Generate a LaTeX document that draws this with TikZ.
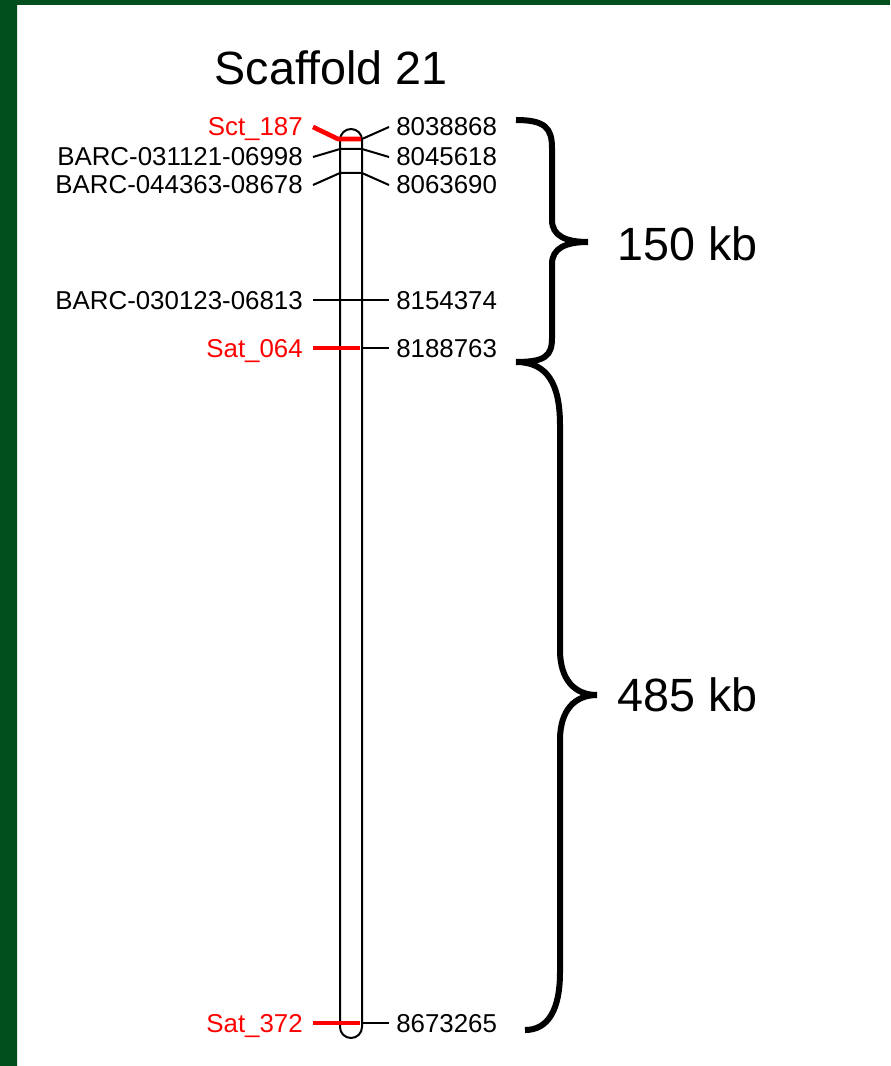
\documentclass[tikz,border=0pt]{standalone}
\usepackage{fontspec}
\setmainfont{Liberation Sans}
\definecolor{bordgreen}{HTML}{004F1D}
\definecolor{borddark}{HTML}{00260E}
\begin{document}
\begin{tikzpicture}[x=0.75pt,y=-0.75pt,
  lbl/.style={font=\fontsize{19.4}{21}\selectfont, inner sep=0pt},
  big/.style={font=\fontsize{35}{40}\selectfont, inner sep=0pt},
  thinline/.style={line width=1.5pt},
  redmark/.style={red, line width=3.5pt},
  bracepath/.style={line width=4.5pt, line cap=butt}]
\useasboundingbox (0,0) rectangle (890,1066);
\fill[white] (0,0) rectangle (890,1066);
\shade[top color=bordgreen, middle color=borddark, bottom color=bordgreen] (0,0) rectangle (17,1066);
\fill[bordgreen] (0,0) rectangle (890,5);

% title
\node[big] (title) at (331,68) {Scaffold 21};

% chromosome
\draw[thinline, rounded corners=8.25pt] (340,129) rectangle (362,1038);

% left labels
\node[lbl, red, anchor=base east] (L1) at (303,136) {Sct\_187};
\node[lbl, anchor=base east] (L2) at (303,166) {BARC-031121-06998};
\node[lbl, anchor=base east] (L3) at (303,194) {BARC-044363-08678};
\node[lbl, anchor=base east] (L4) at (303,309) {BARC-030123-06813};
\node[lbl, red, anchor=base east] (L5) at (303,357) {Sat\_064};
\node[lbl, red, anchor=base east] (L6) at (303,1032) {Sat\_372};

% right labels
\node[lbl, anchor=base west] (R1) at (396,136) {8038868};
\node[lbl, anchor=base west] (R2) at (396,166) {8045618};
\node[lbl, anchor=base west] (R3) at (396,194) {8063690};
\node[lbl, anchor=base west] (R4) at (396,309) {8154374};
\node[lbl, anchor=base west] (R5) at (396,357) {8188763};
\node[lbl, anchor=base west] (R6) at (396,1032) {8673265};

% connector coordinates
\coordinate (a1) at (313,127); \coordinate (b1) at (338,139); \coordinate (c1) at (361,139);
\coordinate (d1) at (362,139); \coordinate (e1) at (389,127);
\coordinate (a2) at (313,157); \coordinate (b2) at (340,149); \coordinate (c2) at (362,149); \coordinate (e2) at (389,157);
\coordinate (a3) at (313,185); \coordinate (b3) at (340,173); \coordinate (c3) at (362,173); \coordinate (e3) at (389,185);
\coordinate (a4) at (313,300); \coordinate (e4) at (389,300);
\coordinate (a5) at (313,348); \coordinate (c5) at (360,348); \coordinate (d5) at (362,348); \coordinate (e5) at (389,348);
\coordinate (a6) at (313,1023); \coordinate (c6) at (360,1023); \coordinate (d6) at (362,1023); \coordinate (e6) at (389,1023);

% black connectors
\draw[thinline] (d1) -- (e1);
\draw[thinline] (a2) -- (b2) -- (c2) -- (e2);
\draw[thinline] (a3) -- (b3) -- (c3) -- (e3);
\draw[thinline] (a4) -- (e4);
\draw[thinline] (d5) -- (e5);
\draw[thinline] (d6) -- (e6);

% red markers
\draw[redmark, line join=round] (a1) -- (b1) -- (c1);
\draw[redmark] (a5) -- (c5);
\draw[redmark] (a6) -- (c6);

% braces
\draw[bracepath] (516,120) .. controls (545,120) and (552,128) .. (552,148)
  -- (552,220) .. controls (552,236) and (566,242) .. (588,242)
  .. controls (566,242) and (552,248) .. (552,264)
  -- (552,338) .. controls (552,356) and (545,362) .. (516,362);
\draw[bracepath] (516,362) .. controls (548,362) and (560,385) .. (560,425)
  -- (560,650) .. controls (560,680) and (575,695) .. (597,695)
  .. controls (575,695) and (560,710) .. (560,740)
  -- (560,972) .. controls (560,1010) and (548,1030) .. (525,1030);

\node[big, anchor=west] (k150) at (617,244) {150 kb};
\node[big, anchor=west] (k485) at (617,695) {485 kb};
\end{tikzpicture}
\end{document}
